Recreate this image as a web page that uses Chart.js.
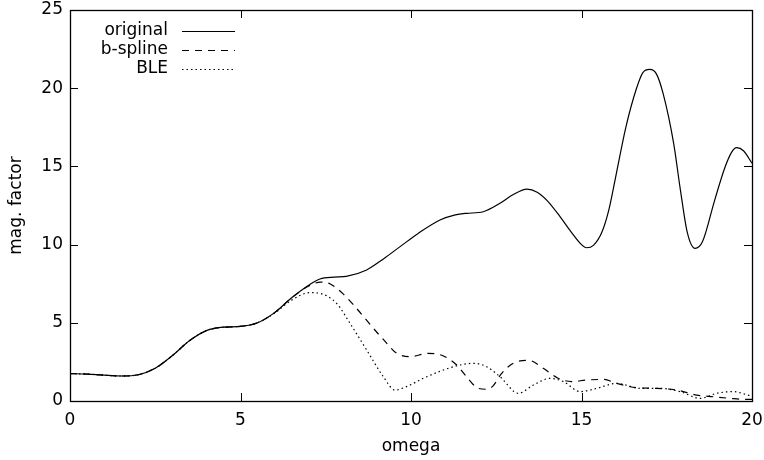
<!DOCTYPE html>
<html>
<head>
<meta charset="utf-8">
<script src="https://cdn.jsdelivr.net/npm/chart.js@4"></script>
<style>
  html, body { margin: 0; padding: 0; background: #fff; }
  #wrap { width: 764px; height: 460px; }
</style>
</head>
<body>
<div id="wrap"><canvas id="chart"></canvas></div>
<script>
// data
const origX = [0, 0.5, 1, 1.5, 2, 2.5, 3, 3.5, 4, 4.5, 5, 5.5, 6, 6.5, 7, 7.33, 7.75, 8.1, 8.7, 9.2, 9.68, 10.2, 10.85, 11.3, 11.63, 12.12, 12.61, 13.0, 13.4, 13.7, 14.0, 14.37, 14.7, 15.0, 15.15, 15.35, 15.6, 15.8, 16.0, 16.3, 16.6, 16.8, 17.0, 17.2, 17.4, 17.7, 17.9, 18.1, 18.33, 18.55, 18.9, 19.2, 19.4, 19.55, 19.75, 20];
const origY = [1.75, 1.72, 1.65, 1.6, 1.68, 2.1, 2.9, 3.85, 4.5, 4.72, 4.77, 5.0, 5.65, 6.6, 7.4, 7.8, 7.92, 7.97, 8.38, 9.1, 9.87, 10.7, 11.57, 11.9, 12.0, 12.1, 12.64, 13.2, 13.55, 13.35, 12.8, 11.79, 10.8, 10.0, 9.8, 9.95, 10.8, 12.2, 14.3, 17.5, 19.9, 21.0, 21.2, 20.9, 19.6, 16.5, 13.5, 10.8, 9.76, 10.2, 12.8, 14.9, 15.9, 16.2, 16.0, 15.2];

const bsplineX = [0, 0.5, 1, 1.5, 2, 2.5, 3, 3.5, 4, 4.5, 5, 5.5, 6, 6.5, 7, 7.35, 7.62, 8.01, 8.36, 8.94, 9.29, 9.58, 9.97, 10.5, 10.95, 11.34, 11.63, 11.97, 12.2, 12.4, 12.66, 13.0, 13.44, 13.88, 14.3, 14.71, 15.15, 15.64, 16.03, 16.62, 17.2, 17.79, 18.38, 18.87, 19.35, 19.84, 20];
const bsplineY = [1.75, 1.72, 1.65, 1.6, 1.68, 2.1, 2.9, 3.85, 4.5, 4.72, 4.77, 5.0, 5.65, 6.6, 7.35, 7.6, 7.5, 6.85, 6.03, 4.54, 3.69, 3.05, 2.83, 3.05, 2.88, 2.3, 1.55, 0.81, 0.75, 0.95, 1.77, 2.41, 2.6, 2.09, 1.47, 1.24, 1.34, 1.38, 1.13, 0.85, 0.81, 0.7, 0.38, 0.27, 0.17, 0.1, 0.1];

const bleX = [0, 0.5, 1, 1.5, 2, 2.5, 3, 3.5, 4, 4.5, 5, 5.5, 6, 6.5, 7.04, 7.33, 7.82, 8.21, 8.7, 9.19, 9.53, 9.87, 10.36, 10.95, 11.44, 11.83, 12.22, 12.61, 13.15, 13.59, 14.08, 14.47, 14.96, 15.45, 16.03, 16.72, 17.3, 17.89, 18.48, 18.96, 19.45, 19.88, 20];
const bleY = [1.75, 1.72, 1.65, 1.6, 1.68, 2.1, 2.9, 3.85, 4.5, 4.72, 4.77, 5.0, 5.62, 6.45, 6.93, 6.88, 6.24, 4.97, 3.26, 1.55, 0.7, 0.92, 1.45, 1.98, 2.3, 2.41, 2.19, 1.55, 0.49, 1.02, 1.45, 1.24, 0.6, 0.81, 1.13, 0.81, 0.81, 0.6, 0.17, 0.49, 0.6, 0.38, 0.3];

const seriesNames = ['original', 'b-spline', 'BLE'];
const seriesDash = [[], [7, 6], [1.5, 3]];
const xTicks = [0, 5, 10, 15, 20];
const yTicks = [0, 5, 10, 15, 20, 25];

const FONT = 'DejaVu Sans';
const FSIZE = 17;

function pts(xs, ys) {
  return xs.map((x, i) => ({ x: x, y: ys[i] }));
}

// gnuplot style frame, inward ticks on all four sides, legend top-left
const framePlugin = {
  id: 'frame',
  afterDraw(chart) {
    const ctx = chart.ctx;
    const a = chart.chartArea;
    const sx = chart.scales.x, sy = chart.scales.y;
    const tl = 8;
    ctx.save();
    ctx.strokeStyle = '#000';
    ctx.lineWidth = 1;
    ctx.setLineDash([]);
    ctx.beginPath();
    xTicks.forEach(v => {
      const px = Math.round(sx.getPixelForValue(v)) + 0.5;
      ctx.moveTo(px, a.bottom); ctx.lineTo(px, a.bottom - tl);
      ctx.moveTo(px, a.top); ctx.lineTo(px, a.top + tl);
    });
    yTicks.forEach(v => {
      const py = Math.round(sy.getPixelForValue(v)) + 0.5;
      ctx.moveTo(a.left, py); ctx.lineTo(a.left + tl, py);
      ctx.moveTo(a.right, py); ctx.lineTo(a.right - tl, py);
    });
    ctx.stroke();
    ctx.lineWidth = 1.3;
    ctx.strokeRect(Math.round(a.left) + 0.5, Math.round(a.top) + 0.5,
      Math.round(a.right - a.left), Math.round(a.bottom - a.top));

    // legend
    ctx.font = FSIZE + 'px "' + FONT + '"';
    ctx.fillStyle = '#000';
    ctx.textAlign = 'right';
    ctx.textBaseline = 'middle';
    seriesNames.forEach((name, i) => {
      const y = a.top + 21 + i * 19;
      ctx.fillText(name, a.left + 98, y);
      ctx.beginPath();
      ctx.lineWidth = 1.2;
      ctx.setLineDash(seriesDash[i]);
      ctx.moveTo(a.left + 112, y + 0.5);
      ctx.lineTo(a.left + 165, y + 0.5);
      ctx.stroke();
    });
    ctx.restore();
  }
};

const datasets = [pts(origX, origY), pts(bsplineX, bsplineY), pts(bleX, bleY)].map((d, i) => ({
  label: seriesNames[i],
  data: d,
  borderColor: '#000',
  borderWidth: 1.2,
  borderDash: seriesDash[i],
  pointRadius: 0,
  fill: false,
  cubicInterpolationMode: 'monotone'
}));

new Chart(document.getElementById('chart'), {
  type: 'line',
  data: { datasets: datasets },
  options: {
    responsive: true,
    maintainAspectRatio: false,
    animation: false,
    layout: { padding: { left: 6, top: 10, right: 12, bottom: 0 } },
    plugins: { legend: { display: false }, tooltip: { enabled: false } },
    scales: {
      x: {
        type: 'linear',
        min: 0, max: 20,
        afterBuildTicks: s => { s.ticks = xTicks.map(v => ({ value: v })); },
        afterFit: s => { s.height = 59; s.paddingLeft = 0; s.paddingRight = 0; },
        grid: { display: false, drawTicks: false },
        border: { display: false },
        ticks: { color: '#000', padding: 9, font: { family: FONT, size: FSIZE } },
        title: { display: true, text: 'omega', color: '#000', padding: { top: 0, bottom: 3 }, font: { family: FONT, size: FSIZE } }
      },
      y: {
        type: 'linear',
        min: 0, max: 25,
        afterBuildTicks: s => { s.ticks = yTicks.map(v => ({ value: v })); },
        afterFit: s => { s.width = 64; s.paddingTop = 0; s.paddingBottom = 0; },
        grid: { display: false, drawTicks: false },
        border: { display: false },
        ticks: { color: '#000', padding: 7, font: { family: FONT, size: FSIZE } },
        title: { display: true, text: 'mag. factor', color: '#000', padding: { top: 0, bottom: 0 }, font: { family: FONT, size: FSIZE } }
      }
    }
  },
  plugins: [framePlugin]
});
</script>
</body>
</html>
